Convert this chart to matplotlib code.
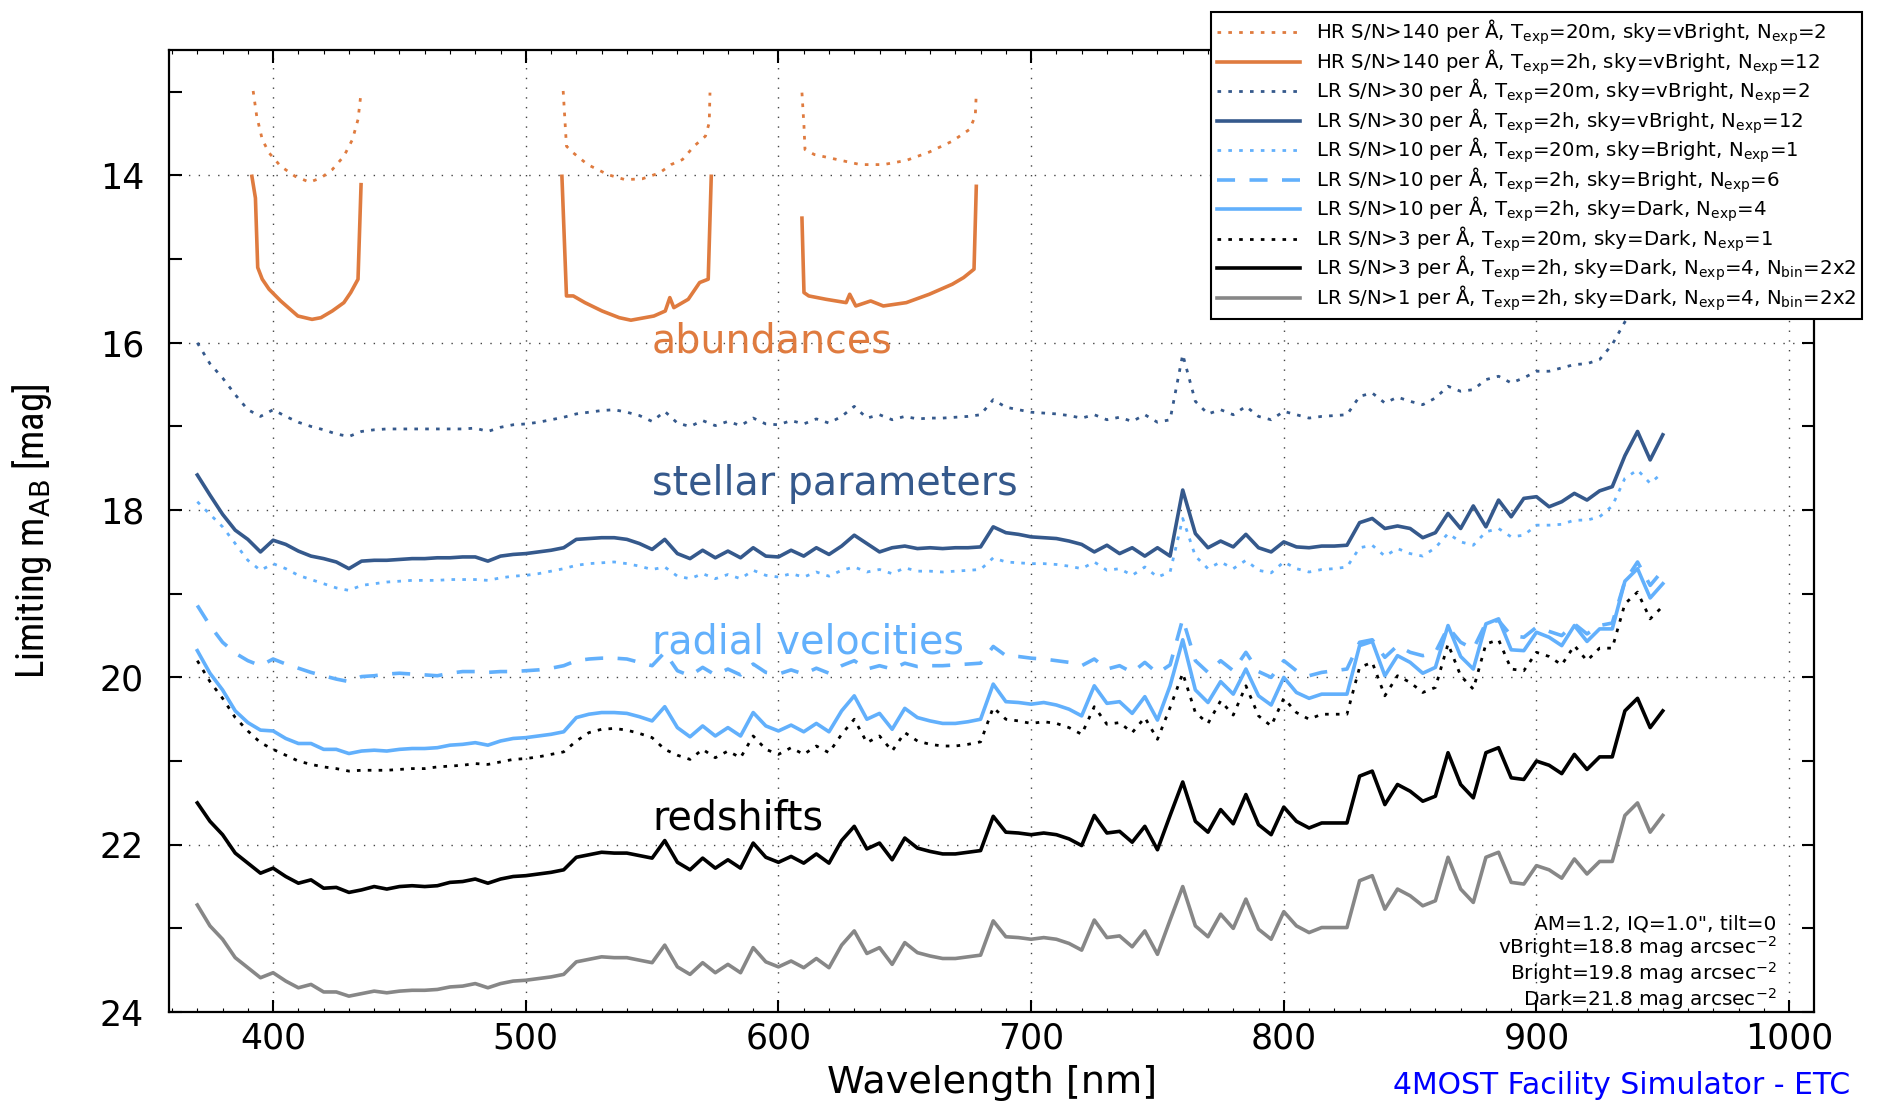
import numpy as np
import matplotlib
matplotlib.use("Agg")
import matplotlib.pyplot as plt
from matplotlib import font_manager

plt.rcParams['font.family'] = ['DejaVu Sans']
plt.rcParams['mathtext.fontset'] = 'dejavusans'

# wavelength grid of the LR curves [nm]
wave = np.arange(370, 955, 5)

# LR S/N>30, 20m, vBright
lr30_20m = [16.00, 16.25, 16.42, 16.62, 16.80, 16.88, 16.80, 16.88, 16.95, 17.00,
            17.04, 17.09, 17.12, 17.06, 17.04, 17.03, 17.03, 17.03, 17.03, 17.03,
            17.03, 17.03, 17.02, 17.06, 17.01, 16.98, 16.97, 16.95, 16.92, 16.89,
            16.85, 16.83, 16.81, 16.80, 16.83, 16.87, 16.94, 16.82, 16.96, 17.00,
            16.93, 16.99, 16.94, 16.99, 16.90, 16.97, 16.98, 16.93, 16.97, 16.91,
            16.96, 16.88, 16.76, 16.90, 16.86, 16.92, 16.88, 16.91, 16.90, 16.90,
            16.89, 16.88, 16.86, 16.68, 16.77, 16.80, 16.83, 16.84, 16.85, 16.87,
            16.90, 16.86, 16.92, 16.89, 16.94, 16.86, 16.95, 16.92, 16.14, 16.70,
            16.85, 16.80, 16.86, 16.76, 16.88, 16.92, 16.82, 16.86, 16.90, 16.88,
            16.87, 16.86, 16.64, 16.60, 16.72, 16.65, 16.70, 16.74, 16.66, 16.52,
            16.58, 16.56, 16.44, 16.40, 16.48, 16.42, 16.34, 16.34, 16.30, 16.26,
            16.25, 16.20, 16.02, 15.75, 15.55, 15.70, 15.60]

# LR S/N>30, 2h, vBright
lr30_2h = [17.58, 17.82, 18.05, 18.24, 18.35, 18.50, 18.36, 18.41, 18.49, 18.55,
           18.58, 18.62, 18.70, 18.61, 18.60, 18.60, 18.59, 18.58, 18.58, 18.57,
           18.57, 18.56, 18.56, 18.61, 18.55, 18.53, 18.52, 18.50, 18.48, 18.45,
           18.35, 18.34, 18.33, 18.33, 18.35, 18.40, 18.47, 18.35, 18.52, 18.58,
           18.48, 18.57, 18.49, 18.57, 18.45, 18.55, 18.56, 18.48, 18.55, 18.45,
           18.53, 18.43, 18.30, 18.40, 18.50, 18.45, 18.43, 18.46, 18.45, 18.46,
           18.45, 18.45, 18.44, 18.20, 18.27, 18.29, 18.32, 18.33, 18.34, 18.37,
           18.41, 18.50, 18.42, 18.52, 18.45, 18.55, 18.45, 18.55, 17.76, 18.28,
           18.45, 18.37, 18.44, 18.29, 18.45, 18.50, 18.38, 18.44, 18.45, 18.43,
           18.43, 18.42, 18.15, 18.10, 18.22, 18.19, 18.22, 18.33, 18.27, 18.04,
           18.22, 17.95, 18.20, 17.88, 18.08, 17.86, 17.84, 17.96, 17.90, 17.80,
           17.88, 17.77, 17.72, 17.35, 17.06, 17.40, 17.10]

# LR S/N>10, 20m, Bright
lr10_20m = [17.90, 18.05, 18.20, 18.40, 18.60, 18.72, 18.64, 18.70, 18.78, 18.83,
            18.88, 18.93, 18.96, 18.90, 18.88, 18.86, 18.85, 18.84, 18.84, 18.84,
            18.83, 18.83, 18.83, 18.84, 18.81, 18.79, 18.78, 18.76, 18.73, 18.70,
            18.66, 18.64, 18.63, 18.62, 18.64, 18.67, 18.71, 18.68, 18.79, 18.82,
            18.76, 18.82, 18.77, 18.82, 18.72, 18.78, 18.80, 18.76, 18.80, 18.74,
            18.79, 18.72, 18.68, 18.74, 18.71, 18.76, 18.69, 18.73, 18.73, 18.74,
            18.73, 18.72, 18.71, 18.57, 18.62, 18.63, 18.64, 18.64, 18.65, 18.67,
            18.70, 18.62, 18.72, 18.70, 18.78, 18.68, 18.80, 18.74, 18.10, 18.55,
            18.70, 18.62, 18.70, 18.60, 18.72, 18.75, 18.62, 18.70, 18.74, 18.71,
            18.70, 18.68, 18.45, 18.42, 18.55, 18.46, 18.52, 18.55, 18.45, 18.28,
            18.38, 18.42, 18.26, 18.22, 18.32, 18.30, 18.18, 18.18, 18.17, 18.12,
            18.12, 18.08, 17.95, 17.62, 17.52, 17.68, 17.55]

# LR S/N>10, 2h, Bright
lr10_2h_bright = [19.14, 19.38, 19.58, 19.71, 19.80, 19.86, 19.78, 19.84, 19.89, 19.94,
                  19.98, 20.02, 20.05, 19.99, 19.98, 19.96, 19.95, 19.96, 19.97, 19.98,
                  19.95, 19.93, 19.93, 19.94, 19.93, 19.93, 19.92, 19.91, 19.89, 19.86,
                  19.80, 19.78, 19.77, 19.77, 19.78, 19.82, 19.86, 19.70, 19.92, 19.98,
                  19.88, 19.97, 19.90, 19.97, 19.84, 19.94, 19.96, 19.91, 19.96, 19.89,
                  19.95, 19.86, 19.80, 19.90, 19.86, 19.90, 19.83, 19.87, 19.86, 19.86,
                  19.85, 19.84, 19.83, 19.63, 19.74, 19.75, 19.77, 19.78, 19.80, 19.82,
                  19.86, 19.78, 19.90, 19.86, 19.94, 19.82, 19.95, 19.85, 19.30, 19.80,
                  19.94, 19.80, 19.92, 19.70, 19.93, 20.00, 19.80, 19.92, 19.98, 19.94,
                  19.92, 19.90, 19.58, 19.55, 19.76, 19.62, 19.70, 19.74, 19.70, 19.40,
                  19.58, 19.66, 19.35, 19.32, 19.50, 19.52, 19.40, 19.45, 19.50, 19.36,
                  19.48, 19.38, 19.35, 18.85, 18.62, 18.90, 18.72]

# LR S/N>10, 2h, Dark
lr10_2h_dark = [19.68, 19.95, 20.15, 20.40, 20.54, 20.63, 20.64, 20.73, 20.79, 20.79,
                20.86, 20.86, 20.91, 20.88, 20.87, 20.88, 20.86, 20.85, 20.85, 20.84,
                20.81, 20.80, 20.78, 20.81, 20.76, 20.73, 20.72, 20.70, 20.68, 20.65,
                20.48, 20.44, 20.42, 20.42, 20.43, 20.47, 20.52, 20.35, 20.60, 20.71,
                20.58, 20.70, 20.60, 20.70, 20.42, 20.58, 20.64, 20.57, 20.65, 20.55,
                20.65, 20.40, 20.22, 20.50, 20.43, 20.62, 20.37, 20.48, 20.52, 20.55,
                20.55, 20.53, 20.50, 20.08, 20.29, 20.30, 20.32, 20.30, 20.33, 20.38,
                20.46, 20.10, 20.31, 20.29, 20.43, 20.23, 20.51, 20.10, 19.55, 20.15,
                20.30, 20.05, 20.20, 19.90, 20.22, 20.33, 20.00, 20.18, 20.25, 20.20,
                20.20, 20.20, 19.62, 19.57, 19.98, 19.74, 19.82, 19.95, 19.88, 19.38,
                19.75, 19.90, 19.36, 19.30, 19.67, 19.68, 19.46, 19.52, 19.62, 19.38,
                19.57, 19.42, 19.42, 18.85, 18.70, 19.05, 18.88]

# LR S/N>3, 20m, Dark
lr3_20m = [19.80, 20.05, 20.25, 20.48, 20.64, 20.78, 20.86, 20.93, 21.00, 21.04,
           21.07, 21.09, 21.12, 21.11, 21.11, 21.11, 21.10, 21.09, 21.09, 21.07,
           21.06, 21.05, 21.03, 21.04, 21.01, 20.98, 20.97, 20.95, 20.92, 20.89,
           20.76, 20.66, 20.62, 20.61, 20.63, 20.67, 20.72, 20.86, 20.93, 20.98,
           20.86, 20.96, 20.88, 20.96, 20.70, 20.86, 20.92, 20.84, 20.92, 20.82,
           20.90, 20.68, 20.50, 20.78, 20.70, 20.88, 20.66, 20.76, 20.80, 20.82,
           20.82, 20.80, 20.77, 20.36, 20.50, 20.52, 20.55, 20.53, 20.55, 20.60,
           20.68, 20.35, 20.56, 20.54, 20.66, 20.48, 20.74, 20.36, 19.95, 20.42,
           20.55, 20.28, 20.45, 20.10, 20.46, 20.58, 20.25, 20.42, 20.50, 20.44,
           20.44, 20.44, 19.88, 19.82, 20.22, 19.98, 20.06, 20.18, 20.12, 19.60,
           19.98, 20.14, 19.60, 19.55, 19.90, 19.92, 19.70, 19.75, 19.85, 19.62,
           19.80, 19.65, 19.65, 19.12, 18.98, 19.30, 19.15]

# LR S/N>3, 2h, Dark, 2x2 binning
lr3_2h = [21.50, 21.72, 21.88, 22.10, 22.22, 22.34, 22.28, 22.38, 22.46, 22.42,
          22.52, 22.51, 22.57, 22.54, 22.50, 22.53, 22.50, 22.49, 22.50, 22.49,
          22.45, 22.44, 22.41, 22.46, 22.41, 22.38, 22.37, 22.35, 22.33, 22.30,
          22.15, 22.12, 22.09, 22.10, 22.10, 22.13, 22.16, 21.95, 22.21, 22.30,
          22.16, 22.28, 22.18, 22.28, 21.98, 22.15, 22.21, 22.14, 22.22, 22.11,
          22.22, 21.95, 21.78, 22.05, 21.98, 22.18, 21.92, 22.04, 22.08, 22.11,
          22.11, 22.09, 22.07, 21.66, 21.85, 21.86, 21.88, 21.86, 21.88, 21.93,
          22.01, 21.65, 21.86, 21.84, 21.97, 21.78, 22.06, 21.65, 21.25, 21.72,
          21.85, 21.58, 21.75, 21.40, 21.76, 21.88, 21.55, 21.72, 21.80, 21.74,
          21.74, 21.74, 21.18, 21.12, 21.52, 21.28, 21.36, 21.48, 21.42, 20.90,
          21.28, 21.44, 20.90, 20.84, 21.20, 21.22, 21.00, 21.05, 21.15, 20.92,
          21.10, 20.95, 20.95, 20.40, 20.25, 20.60, 20.40]

# LR S/N>1, 2h, Dark, 2x2 binning
lr1_2h = [22.72, 22.97, 23.13, 23.35, 23.47, 23.59, 23.53, 23.63, 23.71, 23.67,
          23.76, 23.76, 23.81, 23.78, 23.75, 23.77, 23.75, 23.74, 23.74, 23.73,
          23.70, 23.69, 23.66, 23.71, 23.66, 23.63, 23.62, 23.60, 23.58, 23.55,
          23.40, 23.37, 23.34, 23.35, 23.35, 23.38, 23.41, 23.20, 23.46, 23.55,
          23.41, 23.53, 23.43, 23.53, 23.23, 23.40, 23.46, 23.39, 23.47, 23.36,
          23.47, 23.20, 23.03, 23.30, 23.23, 23.43, 23.17, 23.29, 23.33, 23.36,
          23.36, 23.34, 23.32, 22.91, 23.10, 23.11, 23.13, 23.11, 23.13, 23.18,
          23.26, 22.90, 23.11, 23.09, 23.22, 23.03, 23.31, 22.90, 22.50, 22.97,
          23.10, 22.83, 23.00, 22.65, 23.01, 23.13, 22.80, 22.97, 23.05, 22.99,
          22.99, 22.99, 22.43, 22.37, 22.77, 22.53, 22.61, 22.73, 22.67, 22.15,
          22.53, 22.69, 22.15, 22.09, 22.45, 22.47, 22.25, 22.30, 22.40, 22.17,
          22.35, 22.20, 22.20, 21.65, 21.50, 21.85, 21.65]

# HR windows (nan separates the three windows)
nan = np.nan
hr_wave_20m = [392.1, 393.5, 395.7, 398.4, 403.0, 408.7, 414.4, 418.9, 423.4, 428.0,
               431.4, 433.6, 434.8, nan,
               514.8, 516.1, 518.8, 524.5, 532.5, 539.3, 546.1, 552.9, 557.5, 562.0,
               566.6, 571.1, 572.6, 572.9, nan,
               609.3, 610.1, 610.5, 614.2, 623.3, 632.4, 641.5, 650.6, 659.7, 668.8,
               675.6, 677.9, 678.3]
hr_20m = [12.99, 13.29, 13.57, 13.73, 13.89, 14.01, 14.08, 14.03, 13.93, 13.77,
          13.57, 13.33, 13.01, nan,
          12.99, 13.65, 13.73, 13.87, 13.99, 14.05, 14.04, 13.97, 13.87, 13.81,
          13.65, 13.53, 13.37, 13.01, nan,
          13.01, 13.41, 13.69, 13.75, 13.81, 13.87, 13.87, 13.82, 13.72, 13.59,
          13.45, 13.29, 13.01]

hr_wave_2h = [391.6, 393.0, 393.9, 395.7, 398.4, 403.0, 409.8, 415.4, 418.9, 423.4,
              428.0, 430.7, 433.6, 434.8, nan,
              514.3, 516.1, 518.8, 523.4, 530.2, 537.0, 541.6, 550.7, 555.2, 557.0,
              558.6, 564.3, 568.8, 572.2, 573.4, nan,
              609.3, 610.1, 612.0, 618.8, 626.8, 628.2, 630.6, 636.5, 641.5, 650.6,
              659.7, 668.8, 673.3, 677.4, 678.3]
hr_2h = [14.01, 14.27, 15.10, 15.24, 15.36, 15.50, 15.68, 15.72, 15.70, 15.62,
         15.52, 15.40, 15.24, 14.11, nan,
         14.01, 15.44, 15.44, 15.52, 15.62, 15.70, 15.73, 15.68, 15.62, 15.46,
         15.58, 15.48, 15.28, 15.24, 14.01, nan,
         14.51, 15.40, 15.44, 15.48, 15.52, 15.42, 15.56, 15.50, 15.56, 15.52,
         15.42, 15.30, 15.22, 15.12, 14.13]

labels = [
    r"HR S/N>140 per Å, T$_\mathrm{exp}$=20m, sky=vBright, N$_\mathrm{exp}$=2",
    r"HR S/N>140 per Å, T$_\mathrm{exp}$=2h, sky=vBright, N$_\mathrm{exp}$=12",
    r"LR S/N>30 per Å, T$_\mathrm{exp}$=20m, sky=vBright, N$_\mathrm{exp}$=2",
    r"LR S/N>30 per Å, T$_\mathrm{exp}$=2h, sky=vBright, N$_\mathrm{exp}$=12",
    r"LR S/N>10 per Å, T$_\mathrm{exp}$=20m, sky=Bright, N$_\mathrm{exp}$=1",
    r"LR S/N>10 per Å, T$_\mathrm{exp}$=2h, sky=Bright, N$_\mathrm{exp}$=6",
    r"LR S/N>10 per Å, T$_\mathrm{exp}$=2h, sky=Dark, N$_\mathrm{exp}$=4",
    r"LR S/N>3 per Å, T$_\mathrm{exp}$=20m, sky=Dark, N$_\mathrm{exp}$=1",
    r"LR S/N>3 per Å, T$_\mathrm{exp}$=2h, sky=Dark, N$_\mathrm{exp}$=4, N$_\mathrm{bin}$=2x2",
    r"LR S/N>1 per Å, T$_\mathrm{exp}$=2h, sky=Dark, N$_\mathrm{exp}$=4, N$_\mathrm{bin}$=2x2",
]

orange = '#df7b3f'
dblue = '#35598c'
lblue = '#62b0fc'
gray = '#878787'
dot = (0, (1.3, 2.6))
dash = (0, (5, 4))

# a narrow face for the y label, if one is installed
installed = {f.name for f in font_manager.fontManager.ttflist}
narrow = [n for n in ['Liberation Sans Narrow', 'DejaVu Sans Condensed',
                      'Roboto Condensed', 'Open Sans Condensed'] if n in installed]
ylab_family = narrow[:1] + ['DejaVu Sans']

fig = plt.figure(figsize=(18.78, 11.01), dpi=100)
ax = fig.add_axes([0.090, 0.0808, 0.876, 0.8738])

ax.plot(hr_wave_20m, hr_20m, color=orange, ls=dot, lw=2.0, label=labels[0])
ax.plot(hr_wave_2h, hr_2h, color=orange, lw=2.6, label=labels[1])
ax.plot(wave, lr30_20m, color=dblue, ls=dot, lw=2.0, label=labels[2])
ax.plot(wave, lr30_2h, color=dblue, lw=2.6, label=labels[3])
ax.plot(wave, lr10_20m, color=lblue, ls=dot, lw=2.0, label=labels[4])
ax.plot(wave, lr10_2h_bright, color=lblue, ls=dash, lw=2.6, label=labels[5])
ax.plot(wave, lr10_2h_dark, color=lblue, lw=2.6, label=labels[6])
ax.plot(wave, lr3_20m, color='black', ls=dot, lw=2.0, label=labels[7])
ax.plot(wave, lr3_2h, color='black', lw=2.6, label=labels[8])
ax.plot(wave, lr1_2h, color=gray, lw=2.6, label=labels[9])

ax.set_xlim(358.8, 1009.9)
ax.set_ylim(24, 12.5)
ax.set_xticks([400, 500, 600, 700, 800, 900, 1000])
ax.set_xticks(np.arange(360, 1010, 10), minor=True)
ax.set_yticks([14, 16, 18, 20, 22, 24])
ax.set_yticks([13, 15, 17, 19, 21, 23], minor=True)
ax.tick_params(which='both', direction='in', top=True, right=True, labelsize=25)
ax.tick_params(which='major', length=9, width=1.5)
ax.tick_params(axis='x', which='minor', length=3, width=0.8)
ax.tick_params(axis='y', which='minor', length=9, width=1.5)
ax.tick_params(axis='x', pad=7)
ax.tick_params(axis='y', pad=18)
for sp in ax.spines.values():
    sp.set_linewidth(1.6)
ax.grid(which='major', ls=(0, (1, 6)), color='#444444', lw=1.0)

ax.set_xlabel("Wavelength [nm]", fontsize=27.5)
ax.xaxis.set_label_coords(0.5, -0.074)
ax.xaxis.label.set_va('center')
ax.set_ylabel(r"Limiting m$_\mathrm{AB}$ [mag]", fontsize=28, family=ylab_family)
ax.yaxis.set_label_coords(-0.083, 0.5)
ax.yaxis.label.set_va('center')

ax.text(550, 16.12, "abundances", color=orange, fontsize=28.5, va='baseline')
ax.text(550, 17.82, "stellar parameters", color=dblue, fontsize=28.5, va='baseline')
ax.text(550, 19.71, "radial velocities", color=lblue, fontsize=28.5, va='baseline')
ax.text(550, 21.82, "redshifts", color='black', fontsize=28.5, va='baseline')

# observing conditions, one right-aligned block
cond = ['AM=1.2, IQ=1.0", tilt=0',
        r"vBright=18.8 mag arcsec$^{-2}$",
        r"Bright=19.8 mag arcsec$^{-2}$",
        r"Dark=21.8 mag arcsec$^{-2}$"]
ax.text(995, 23.93, "\n".join(cond), ha='right', va='baseline',
        multialignment='right', fontsize=14.5, linespacing=1.02)

fig.text(1850 / 1878, 1 - 1086 / 1101, "4MOST Facility Simulator - ETC",
         color='blue', fontsize=21.5, ha='right', va='center')

leg = ax.legend(loc='upper right', bbox_to_anchor=(1862 / 1878, 1 - 12 / 1101),
                bbox_transform=fig.transFigure, fontsize=14.2, fancybox=False,
                edgecolor='black', framealpha=1, borderaxespad=0,
                handlelength=4.2, handletextpad=0.8, labelspacing=0.0,
                borderpad=0.3)
leg.get_frame().set_linewidth(1.5)

fig.savefig("out.png", dpi=100)
